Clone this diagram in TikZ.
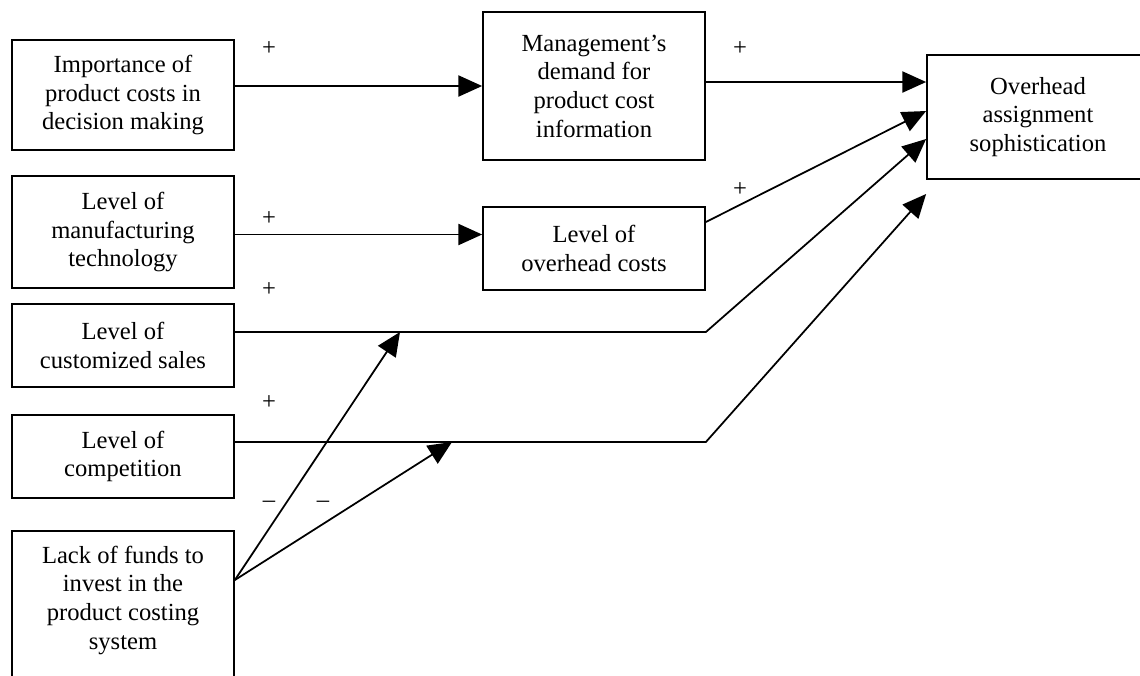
\documentclass[tikz,border=0pt]{standalone}
\usepackage{fontspec}
\setmainfont{Liberation Serif}
\usepackage{tikz}
\usetikzlibrary{arrows.meta, positioning, calc}

\begin{document}
\begin{tikzpicture}[>={Triangle[length=13.5pt,width=12pt]}, line width=1pt]
  \tikzstyle{box} = [rectangle, draw, align=center, minimum width=4.44cm, inner sep=0pt, font=\fontsize{14}{16.3}\selectfont]
  \tikzstyle{sign} = [inner sep=0pt, font=\fontsize{14}{16.3}\selectfont]

  \useasboundingbox (0,0) rectangle (22.8,-13.5);

  % causes
  \node [box, minimum height=2.20cm] (imp) at (2.46,-1.90) {Importance of\\product costs in\\decision making};
  \node [box, minimum height=2.24cm] (mfg) at (2.46,-4.64) {Level of\\manufacturing\\technology};
  \node [box, minimum height=1.66cm] (cust) at (2.46,-6.91) {Level of\\customized sales};
  \node [box, minimum height=1.66cm] (comp) at (2.46,-9.13) {Level of\\competition};
  \node [box, anchor=north, inner ysep=0.3cm, text depth=2cm] (lack) at (2.46,-10.60) {Lack of funds to\\invest in the\\product costing\\system};

  % mediators and outcome
  \node [box, minimum height=2.96cm] (mgmt) at (11.88,-1.72) {Management's\\demand for\\product cost\\information};
  \node [box, minimum height=1.66cm] (ovc) at (11.88,-4.97) {Level of\\overhead costs};
  \node [box, minimum height=2.48cm] (ovh) at (20.76,-2.34) {Overhead\\assignment\\sophistication};

  \coordinate (in1) at ([yshift=0.70cm]ovh.west);
  \coordinate (in2) at ([yshift=0.12cm]ovh.west);
  \coordinate (in3) at ([yshift=-0.44cm]ovh.west);
  \coordinate (in4) at ([yshift=-1.54cm]ovh.west);
  \coordinate (cout) at ([yshift=0.27cm]cust.east);
  \coordinate (pout) at ([yshift=0.29cm]comp.east);
  \coordinate (bend1) at (ovc.east |- cout);
  \coordinate (bend2) at (ovc.east |- pout);
  \coordinate (m1) at (8.00,-6.64);
  \coordinate (m2) at (9.04,-8.84);
  \coordinate (lout) at ([yshift=-1.0cm]lack.north east);

  \draw[->] (imp.east |- mgmt.west) -- (mgmt.west);
  \draw[->] ([yshift=-0.05cm]mfg.east) -- ([yshift=-0.05cm]mfg.east -| ovc.west);
  \draw[->] (mgmt.east |- in1) -- (in1);
  \draw[->] ([yshift=0.53cm]ovc.east) -- (in2);
  \draw[->] (cout) -- (bend1) -- (in3);
  \draw[->] (pout) -- (bend2) -- (in4);
  \draw[->] (lout) -- (m1);
  \draw[->] (lout) -- (m2);

  % signs
  \node [sign] (p1) at (5.38,-0.98) {+};
  \node [sign] (p2) at (14.80,-0.98) {+};
  \node [sign] (p3) at (5.38,-4.38) {+};
  \node [sign] (p4) at (14.80,-3.80) {+};
  \node [sign] (p5) at (5.38,-5.80) {+};
  \node [sign] (p6) at (5.38,-8.06) {+};
  \node [sign] (n1) at (5.38,-10.08) {--};
  \node [sign] (n2) at (6.46,-10.08) {--};
\end{tikzpicture}
\end{document}
